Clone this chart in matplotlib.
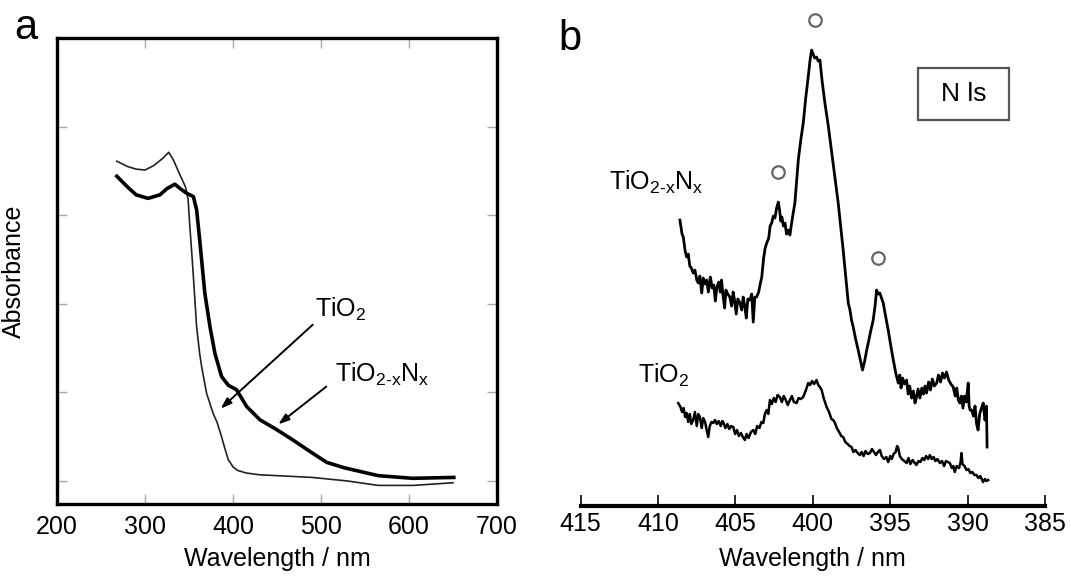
import matplotlib
matplotlib.use("Agg")
import matplotlib.pyplot as plt
from matplotlib.patches import Rectangle

plt.rcParams['font.family'] = ['Liberation Sans', 'DejaVu Sans']
plt.rcParams['mathtext.fontset'] = 'custom'
plt.rcParams['mathtext.rm'] = 'Liberation Sans'
plt.rcParams['mathtext.it'] = 'Liberation Sans:italic'

# ---- panel a: UV-vis absorbance ----
tio2_wl = [268, 280, 290, 300, 310, 320, 327, 332, 340, 346, 349, 351, 353, 355,
           358.7, 362, 364.4, 370, 377.6, 382, 387, 391, 394.7, 400, 405, 415,
           430, 450, 490, 530, 565, 605, 650]
tio2_abs = [3.61, 3.55, 3.52, 3.51, 3.56, 3.64, 3.71, 3.63, 3.45, 3.32, 3.18, 2.87,
            2.6, 2.31, 1.74, 1.45, 1.29, 0.99, 0.76, 0.66, 0.5, 0.36, 0.24, 0.16,
            0.12, 0.09, 0.07, 0.06, 0.04, 0.0, -0.05, -0.05, -0.02]

tion_wl = [268, 280, 290, 303.5, 317, 325, 334, 340, 347, 355, 358.7, 362.5, 368,
           373.9, 379.5, 387, 394.7, 404, 415.6, 430.7, 449.6, 468.5, 491, 506.6,
           526, 565, 604, 651]
tion_abs = [3.44, 3.32, 3.23, 3.19, 3.23, 3.3, 3.35, 3.3, 3.25, 3.21, 3.06, 2.69,
            2.12, 1.74, 1.44, 1.18, 1.08, 1.03, 0.84, 0.69, 0.58, 0.46, 0.31, 0.21,
            0.15, 0.06, 0.03, 0.04]

# ---- panel b: N 1s spectra (arbitrary units) ----
nx_wl = [408.59, 408.45, 408.37, 408.25, 408.15, 408.05, 407.95, 407.85, 407.73, 407.62,
         407.50, 407.40, 407.30, 407.18, 407.08, 406.96, 406.86, 406.75, 406.62, 406.50,
         406.40, 406.30, 406.20, 406.08, 405.98, 405.90, 405.80, 405.70, 405.62, 405.50,
         405.36, 405.25, 405.15, 405.05, 404.95, 404.85, 404.70, 404.60, 404.50, 404.40,
         404.30, 404.20, 404.06, 403.95, 403.85, 403.75, 403.63, 403.50, 403.40, 403.30,
         403.18, 403.08, 402.98, 402.85, 402.76, 402.66, 402.55, 402.45, 402.34, 402.23,
         402.15, 402.07, 402.00, 401.90, 401.80, 401.70, 401.58, 401.48, 401.38, 401.28,
         401.16, 401.05, 400.94, 400.78, 400.62, 400.46, 400.30, 400.18, 400.08, 399.98,
         399.88, 399.76, 399.65, 399.54, 399.40, 399.22, 399.00, 398.80, 398.58, 398.36,
         398.20, 398.04, 397.88, 397.71, 397.60, 397.50, 397.39, 397.25, 397.07, 396.93,
         396.79, 396.65, 396.52, 396.42, 396.26, 396.10, 395.98, 395.88, 395.78, 395.67,
         395.56, 395.45, 395.30, 395.13, 394.96, 394.80, 394.64, 394.48, 394.38, 394.30,
         394.20, 394.08, 393.94, 393.84, 393.74, 393.62, 393.50, 393.40, 393.30, 393.20,
         393.08, 392.96, 392.85, 392.75, 392.65, 392.52, 392.40, 392.28, 392.15, 392.00,
         391.88, 391.75, 391.62, 391.50, 391.36, 391.22, 391.08, 390.93, 390.80, 390.70,
         390.60, 390.50, 390.40, 390.30, 390.20, 390.08, 389.96, 389.90, 389.84, 389.74,
         389.62, 389.52, 389.42, 389.32, 389.22, 389.10, 388.99, 388.88, 388.80, 388.78,
         388.74]
nx_int = [286, 272, 269, 255, 249, 252, 240, 238, 233, 236,
          226, 223, 230, 213, 228, 222, 226, 214, 229, 218,
          221, 205, 219, 224, 214, 226, 210, 198, 216, 212,
          209, 200, 214, 205, 192, 207, 203, 196, 209, 200,
          188, 207, 206, 212, 184, 209, 209, 214, 222, 229,
          248, 258, 263, 268, 280, 283, 290, 288, 298, 304,
          296, 285, 289, 280, 283, 272, 276, 271, 282, 292,
          303, 324, 346, 366, 383, 408, 429, 446, 456, 452,
          448, 449, 445, 446, 425, 403, 380, 356, 330, 303,
          280, 256, 230, 203, 196, 186, 179, 168, 156, 146,
          136, 145, 156, 163, 175, 186, 200, 216, 212, 213,
          208, 203, 190, 176, 160, 146, 133, 123, 131, 118,
          128, 122, 126, 112, 120, 108, 115, 103, 109, 117,
          108, 118, 112, 120, 113, 124, 116, 127, 120, 123,
          131, 124, 133, 128, 134, 126, 122, 119, 110, 118,
          106, 103, 110, 98, 110, 104, 123, 100, 96, 96,
          90, 100, 82, 76, 92, 98, 103, 86, 92, 100,
          59]

ti_wl = [408.70, 408.55, 408.45, 408.35, 408.25, 408.15, 408.05, 407.95, 407.85, 407.73,
         407.62, 407.50, 407.40, 407.30, 407.18, 407.08, 406.96, 406.86, 406.76, 406.66,
         406.55, 406.43, 406.32, 406.20, 406.08, 405.95, 405.85, 405.79, 405.65, 405.52,
         405.40, 405.28, 405.14, 405.02, 404.90, 404.78, 404.65, 404.52, 404.39, 404.28,
         404.15, 404.00, 403.85, 403.72, 403.60, 403.45, 403.32, 403.20, 403.10, 402.98,
         402.88, 402.77, 402.65, 402.52, 402.40, 402.28, 402.13, 402.00, 401.88, 401.75,
         401.62, 401.48, 401.36, 401.22, 401.05, 400.92, 400.78, 400.62, 400.50, 400.40,
         400.30, 400.18, 400.05, 399.92, 399.76, 399.65, 399.54, 399.43, 399.30, 399.11,
         398.95, 398.80, 398.68, 398.57, 398.45, 398.30, 398.16, 398.04, 397.90, 397.75,
         397.62, 397.50, 397.38, 397.25, 397.10, 396.96, 396.85, 396.72, 396.60, 396.45,
         396.31, 396.18, 396.05, 395.92, 395.80, 395.67, 395.55, 395.40, 395.25, 395.13,
         395.00, 394.90, 394.78, 394.65, 394.55, 394.48, 394.38, 394.25, 394.10, 393.94,
         393.82, 393.70, 393.55, 393.42, 393.30, 393.18, 393.05, 392.92, 392.80, 392.68,
         392.55, 392.44, 392.32, 392.20, 392.08, 391.95, 391.79, 391.65, 391.52, 391.40,
         391.28, 391.15, 391.02, 390.92, 390.83, 390.70, 390.55, 390.45, 390.40, 390.33,
         390.20, 390.07, 389.95, 389.82, 389.70, 389.55, 389.43, 389.30, 389.18, 389.00,
         388.88, 388.78, 388.67]
ti_int = [103, 99, 94, 98, 89, 93, 84, 92, 82, 86,
          94, 80, 92, 89, 78, 88, 84, 76, 69, 80,
          84, 83, 86, 82, 85, 80, 85, 84, 78, 82,
          77, 80, 79, 72, 76, 70, 73, 69, 66, 72,
          68, 74, 76, 72, 80, 78, 84, 83, 92, 96,
          92, 106, 102, 108, 104, 111, 109, 104, 110, 106,
          101, 106, 110, 104, 103, 108, 107, 109, 114, 118,
          123, 121, 125, 122, 126, 121, 119, 116, 108, 99,
          94, 87, 86, 83, 78, 74, 70, 69, 64, 62,
          60, 59, 54, 56, 53, 51, 54, 50, 55, 52,
          53, 57, 54, 51, 54, 56, 50, 47, 49, 44,
          50, 47, 52, 54, 60, 58, 50, 47, 45, 43,
          48, 42, 46, 43, 41, 45, 44, 48, 46, 50,
          47, 51, 47, 49, 45, 47, 43, 45, 40, 45,
          44, 43, 38, 40, 34, 40, 38, 44, 53, 42,
          40, 36, 37, 33, 34, 31, 31, 28, 30, 24,
          27, 25, 26]

peak_wl = [402.23, 399.86, 395.78]
peak_int = [334, 486, 248]

fig = plt.figure(figsize=(10.71, 5.76), dpi=100)

# panel a
ax1 = fig.add_axes([0.0532, 0.125, 0.4108, 0.809])
ax1.plot(tio2_wl, tio2_abs, color='#222222', lw=1.2)
ax1.plot(tion_wl, tion_abs, color='black', lw=2.6)
ax1.set_xlim(200, 700)
ax1.set_ylim(-0.26, 5.0)
ax1.set_xticks([200, 300, 400, 500, 600, 700])
ax1.set_yticks([0, 1, 2, 3, 4])
ax1.set_yticklabels([])
ax1.tick_params(direction='in', length=7, width=1, color='#aaaaaa',
                top=True, right=True, labelsize=18, pad=8)
for s in ax1.spines.values():
    s.set_linewidth(2.4)
ax1.set_xlabel('Wavelength / nm', fontsize=18, labelpad=6)
ax1.set_ylabel('Absorbance', fontsize=18, labelpad=14)

# arrows pointing at the curves
arrow = dict(arrowstyle='-|>,head_length=0.65,head_width=0.22', color='black', lw=1.4)
ax1.annotate('', xy=(383.6, 0.795), xytext=(493, 1.785), arrowprops=arrow)
ax1.annotate('', xy=(449, 0.62), xytext=(508.6, 1.085), arrowprops=arrow)
ax1.text(493, 1.853, 'TiO$_2$', fontsize=18, va='baseline', ha='left')
ax1.text(516, 1.122, r'TiO$_{\mathrm{2\text{-}x}}$N$_{\mathrm{x}}$', fontsize=18,
         va='baseline', ha='left')
fig.text(14 / 1071, 1 - 39 / 576, 'a', fontsize=30, va='baseline', ha='left')

# panel b
ax2 = fig.add_axes([0.5422, 0.1215, 0.4335, 0.861])
ax2.plot(nx_wl, nx_int, color='black', lw=2.0)
ax2.plot(ti_wl, ti_int, color='black', lw=1.8)
ax2.plot(peak_wl, peak_int, linestyle='none', marker='o', markersize=9,
         markerfacecolor='none', markeredgecolor='#666666', markeredgewidth=1.6,
         clip_on=False)
ax2.set_xlim(415, 385)
ax2.set_ylim(0, 496)
ax2.set_xticks([415, 410, 405, 400, 395, 390, 385])
ax2.set_yticks([])
for side in ['left', 'right', 'top']:
    ax2.spines[side].set_visible(False)
ax2.spines['bottom'].set_linewidth(3)
ax2.tick_params(axis='x', direction='in', length=8, width=1.2, labelsize=18, pad=4)
ax2.set_xlabel('Wavelength / nm', fontsize=18, labelpad=8)

ax2.add_patch(Rectangle((393.21, 385.7), 387.33 - 393.21, 438.2 - 385.7,
                        fill=False, edgecolor='#555555', lw=1.6))
ax2.text(390.27, 412, 'N ls', fontsize=19, ha='center', va='center')
ax2.text(413.17, 316, r'TiO$_{\mathrm{2\text{-}x}}$N$_{\mathrm{x}}$', fontsize=18,
         va='baseline', ha='left')
ax2.text(411.3, 123, 'TiO$_2$', fontsize=18, va='baseline', ha='left')
fig.text(558 / 1071, 1 - 49.5 / 576, 'b', fontsize=30, va='baseline', ha='left')

fig.savefig('out.png', dpi=100)
